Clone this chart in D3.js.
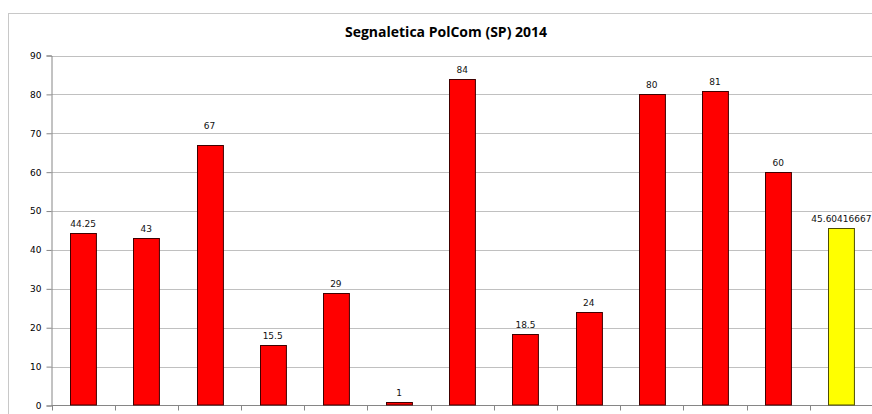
<!DOCTYPE html>
<html>
<head>
<meta charset="utf-8">
<script src="https://cdnjs.cloudflare.com/ajax/libs/d3/7.8.5/d3.min.js"></script>
</head>
<body style="overflow: hidden; padding: 0; margin: 0; background: #fff;">
<script>
    const width = 872, height = 414;

    const title = "Segnaletica PolCom (SP) 2014";
    // category names are cut off at the bottom of the picture
    const categories = d3.range(1, 14).map(i => "C" + i);
    const values = [44.25, 43, 67, 15.5, 29, 1, 84, 18.5, 24, 80, 81, 60, 45.60416667];
    const valueLabels = ["44.25", "43", "67", "15.5", "29", "1", "84", "18.5", "24", "80", "81", "60", "45.60416667"];
    const yTicks = [0, 10, 20, 30, 40, 50, 60, 70, 80, 90];

    const plot = {left: 51.5, right: 873, top: 55.5, bottom: 405.5};

    const svg = d3.select("body").append("svg")
      .attr("width", width)
      .attr("height", height);

    // chart frame
    svg.append("rect")
      .attr("x", 8.5).attr("y", 13.5)
      .attr("width", 900).attr("height", 500)
      .attr("fill", "#fff")
      .attr("stroke", "#c8c8c8");

    svg.append("text")
      .attr("x", 446).attr("y", 37)
      .attr("text-anchor", "middle")
      .style("font", "bold 14px 'Open Sans', sans-serif")
      .style("fill", "#000")
      .text(title);

    const x = d3.scaleBand().domain(categories).range([plot.left, plot.right]).paddingInner(0.59).paddingOuter(0.295);
    const y = d3.scaleLinear().domain([0, 90]).range([plot.bottom, plot.top]);

    // gridlines
    svg.append("g").selectAll("line")
      .data(yTicks.slice(1))
      .enter().append("line")
      .attr("x1", plot.left).attr("x2", plot.right)
      .attr("y1", d => Math.round(y(d)) + 0.5).attr("y2", d => Math.round(y(d)) + 0.5)
      .attr("stroke", "#c0c0c0");

    const yAxis = svg.append("g")
      .attr("transform", "translate(" + plot.left + ",0)")
      .call(d3.axisLeft(y).tickValues(yTicks).tickSize(5).tickPadding(5).tickFormat(d3.format("d")));
    yAxis.select(".domain").attr("stroke", "#868686");
    yAxis.selectAll(".tick line").attr("stroke", "#868686");
    yAxis.selectAll("text").style("font", "9px 'DejaVu Sans', sans-serif").style("fill", "#000");

    const xAxis = svg.append("g").attr("transform", "translate(0," + plot.bottom + ")");
    xAxis.append("line").attr("x1", plot.left).attr("x2", plot.right).attr("stroke", "#868686");
    xAxis.selectAll(".tk")
      .data(d3.range(categories.length + 1))
      .enter().append("line")
      .attr("x1", i => Math.round(plot.left + i * (plot.right - plot.left) / categories.length) + 0.5)
      .attr("x2", i => Math.round(plot.left + i * (plot.right - plot.left) / categories.length) + 0.5)
      .attr("y1", 0).attr("y2", 5)
      .attr("stroke", "#868686");

    svg.append("g").selectAll("rect")
      .data(values)
      .enter().append("rect")
      .attr("x", (d, i) => Math.round(x(categories[i])) + 0.5)
      .attr("y", d => Math.round(y(d)) + 0.5)
      .attr("width", x.bandwidth())
      .attr("height", d => plot.bottom - Math.round(y(d)) - 1)
      .attr("fill", (d, i) => i === values.length - 1 ? "#ffff00" : "#ff0000")
      .attr("stroke", (d, i) => i === values.length - 1 ? "#4d4d00" : "#400000");

    // the "67" label was moved up by hand in the original
    svg.append("g").selectAll("text")
      .data(values)
      .enter().append("text")
      .attr("x", (d, i) => x(categories[i]) + x.bandwidth() / 2)
      .attr("y", (d, i) => y(d) - (i === 2 ? 16 : 6))
      .attr("text-anchor", "middle")
      .style("font", "9px 'DejaVu Sans', sans-serif")
      .style("fill", "#111")
      .text((d, i) => valueLabels[i]);
</script>
</body>
</html>
